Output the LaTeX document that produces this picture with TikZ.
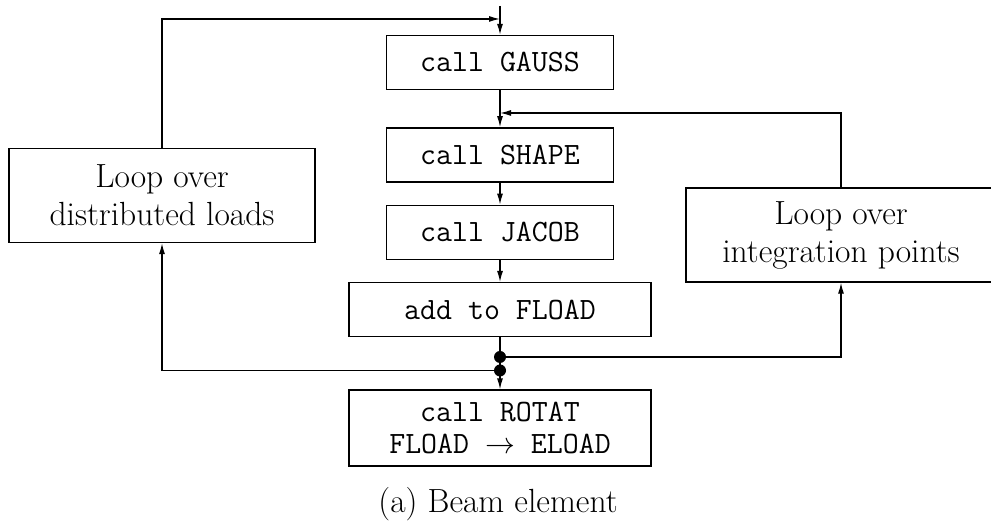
\documentclass[tikz,border=0pt]{standalone}
\usepackage{fontspec}
\usepackage{tikz}
\usetikzlibrary{arrows.meta, positioning}
\tikzset{
  every node/.style={font=\fontsize{33.5}{38}\selectfont},
  callblock/.style={
    rectangle, draw, line width=1.4pt, inner sep=0pt,
    minimum width=227pt, minimum height=54pt,
    align=center, font=\fontsize{31}{37}\selectfont\ttfamily
  },
  wideblock/.style={callblock, minimum width=302pt},
  loopblock/.style={
    rectangle, draw, line width=1.4pt, inner sep=0pt,
    minimum width=306pt, minimum height=94pt, align=center
  },
  flowline/.style={draw, -{Latex[length=11pt, width=6pt]}, line width=1.3pt},
  joindot/.style={fill, circle, inner sep=0pt, minimum size=12pt}
}
\newcommand{\bigto}{\scalebox{1.2}{$\rightarrow$}}
\begin{document}
\begin{tikzpicture}[x=1pt, y=1pt]
  \useasboundingbox (0,0) rectangle (991,529);

  % main column
  \node[callblock] (gauss) at (500,466.5) {call GAUSS};
  \node[callblock, below=37pt of gauss] (shape) {call SHAPE};
  \node[callblock, below=22pt of shape] (jacob) {call JACOB};
  \node[wideblock, below=22pt of jacob] (addf) {add to FLOAD};
  \node[wideblock, below=52pt of addf, minimum height=76pt] (rotat) {call ROTAT\\[-5pt]FLOAD \bigto{} ELOAD};

  % loops
  \node[loopblock] (distloads) at (162,333.5) {Loop over\\distributed loads};
  \node[loopblock, minimum width=310pt] (intpts) at (841,294) {Loop over\\integration points};

  % caption
  \node[anchor=base] (caption) at (498,16) {(a) Beam element};

  % joints
  \coordinate (entry) at (500,523);
  \coordinate (jgauss) at (500,510);
  \coordinate (jshape) at (500,416);
  \node[joindot] (dotint) at (500,172) {};
  \node[joindot] (dotdist) at (500,158.5) {};

  \draw[flowline] (entry) -- (gauss);
  \draw[flowline] (distloads.north) |- (jgauss);
  \draw[flowline] (gauss) -- (shape);
  \draw[flowline] (intpts.north) |- (jshape);
  \draw[flowline] (shape) -- (jacob);
  \draw[flowline] (jacob) -- (addf);
  \draw[flowline] (addf) -- (rotat);
  \draw[flowline] (dotint.center) -| (intpts.south);
  \draw[flowline] (dotdist.center) -| (distloads.south);
\end{tikzpicture}
\end{document}
